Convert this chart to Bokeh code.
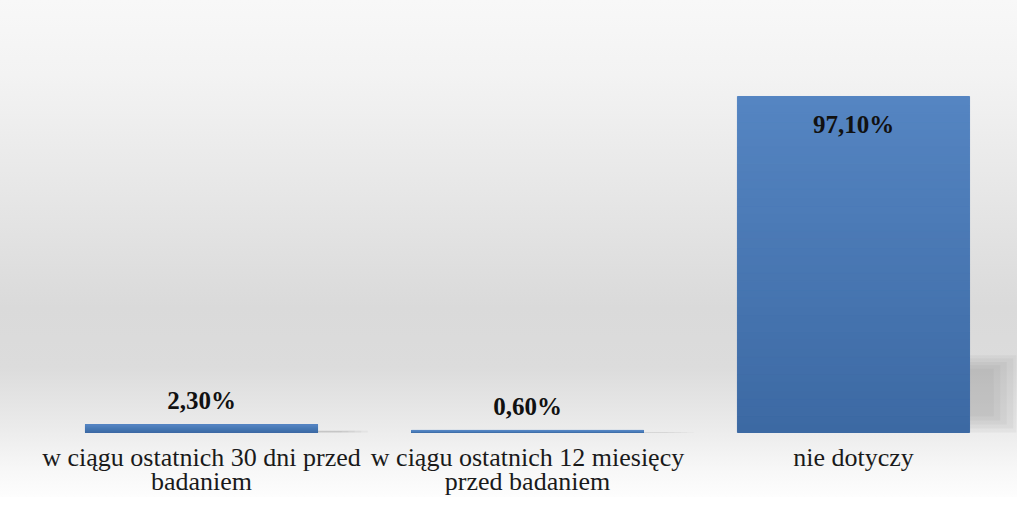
from bokeh.plotting import figure
from bokeh.models import ColumnDataSource, FactorRange, Range1d
from bokeh.transform import dodge
from bokeh.core.properties import value
from bokeh.embed import file_html
from bokeh.resources import INLINE

# ---- data ----
categories = [
    "w ciągu ostatnich 30 dni przed badaniem",
    "w ciągu ostatnich 12 miesięcy przed badaniem",
    "nie dotyczy",
]
label_line1 = ["w ciągu ostatnich 30 dni przed", "w ciągu ostatnich 12 miesięcy", "nie dotyczy"]
label_line2 = ["badaniem", "przed badaniem", ""]
values = [2.3, 0.6, 97.1]
value_labels = ["2,30%", "0,60%", "97,10%"]

SERIF = value("Liberation Serif")

p = figure(
    width=1017, height=497,
    x_range=FactorRange(factors=categories, range_padding=0.0, range_padding_units="absolute"),
    y_range=Range1d(-18.78, 124.84),
    x_axis_location=None, y_axis_location=None,
    toolbar_location=None, output_backend="svg",
    min_border_left=38, min_border_right=1, min_border_top=0, min_border_bottom=0,
)
p.grid.visible = False
p.outline_line_color = None
p.background_fill_alpha = 0
p.border_fill_alpha = 0
p.styles = {
    "background": "linear-gradient(to bottom, #f8f8f8 0%, #f3f3f3 15%, #e6e6e6 40%, "
                  "#dadada 62%, #dcdcdc 74%, #ebebeb 86%, #f8f8f8 95%, #fdfdfd 100%)"
}

# soft shadow to the right of the bars (layered for a blurred look)
shadow_left = 0.30
layers = [(0.51, 0.230, 0.000), (0.49, 0.220, 0.012), (0.47, 0.210, 0.024),
          (0.45, 0.200, 0.036), (0.43, 0.190, 0.048)]
for right, tf, bf in layers:
    sh = ColumnDataSource(dict(x=categories,
                               top=[v * tf for v in values],
                               bottom=[v * bf for v in values]))
    p.vbar(x=dodge("x", (shadow_left + right) / 2, range=p.x_range), top="top", bottom="bottom",
           width=right - shadow_left, source=sh,
           fill_color="#7a7a7a", fill_alpha=0.08, line_color=None)

# bars with vertical gradient (slices)
N = 40
top_rgb = (0x55, 0x85, 0xc2)
bot_rgb = (0x3c, 0x69, 0xa3)
xs, bots, tops, cols = [], [], [], []
for c, v in zip(categories, values):
    for k in range(N):
        t = (k + 0.5) / N
        rgb = tuple(int(round(bot_rgb[j] + (top_rgb[j] - bot_rgb[j]) * t)) for j in range(3))
        xs.append(c)
        bots.append(v * k / N)
        tops.append(v * (k + 1) / N)
        cols.append("#%02x%02x%02x" % rgb)
p.vbar(x="x", bottom="bottom", top="top", width=0.712, color="color",
       source=ColumnDataSource(dict(x=xs, bottom=bots, top=tops, color=cols)))

# value labels
lab = ColumnDataSource(dict(
    x=categories, y=values, text=value_labels,
    yoff=[28 if v > 50 else -24 for v in values],
))
p.text(x="x", y="y", text="text", y_offset="yoff", source=lab,
       text_align="center", text_baseline="alphabetic",
       text_font=SERIF, text_font_style="bold", text_font_size="25px", text_color="#111111")

# category labels
cl = ColumnDataSource(dict(x=categories, y=[0] * 3, l1=label_line1, l2=label_line2))
p.text(x="x", y="y", text="l1", y_offset=25, source=cl, text_align="center",
       text_baseline="alphabetic", text_font=SERIF, text_font_size="26px", text_color="#1a1a1a")
p.text(x="x", y="y", text="l2", y_offset=49, source=cl, text_align="center",
       text_baseline="alphabetic", text_font=SERIF, text_font_size="26px", text_color="#1a1a1a")

open("out.html", "w").write(file_html(p, INLINE))
